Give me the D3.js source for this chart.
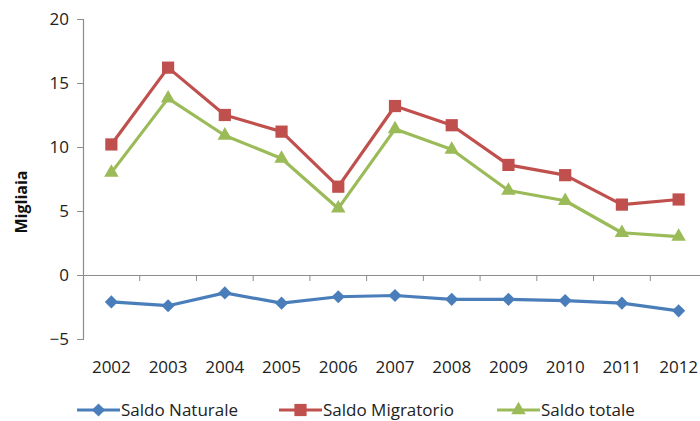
<!DOCTYPE html>
<html>
<head>
<meta charset="utf-8">
<script src="https://cdn.jsdelivr.net/npm/d3@7"></script>
<style>
  body { margin: 0; background: #fff; }
  text { font-family: "Open Sans", "Liberation Sans", sans-serif; }
</style>
</head>
<body>
<svg id="chart"></svg>
<script>
// data (migliaia)
var years = ['2002','2003','2004','2005','2006','2007','2008','2009','2010','2011','2012'];
var saldoNaturale = [-2.1, -2.4, -1.4, -2.2, -1.7, -1.6, -1.9, -1.9, -2.0, -2.2, -2.8];
var saldoMigratorio = [10.2, 16.2, 12.5, 11.2, 6.9, 13.2, 11.7, 8.6, 7.8, 5.5, 5.9];
var saldoTotale = [8.0, 13.8, 10.9, 9.1, 5.2, 11.4, 9.8, 6.6, 5.8, 3.3, 3.0];
var yTicks = [-5, 0, 5, 10, 15, 20];

var series = [
  {name: 'Saldo Naturale', values: saldoNaturale, color: '#4a7ebb', shape: 'diamond'},
  {name: 'Saldo Migratorio', values: saldoMigratorio, color: '#c0504d', shape: 'square'},
  {name: 'Saldo totale', values: saldoTotale, color: '#9bbb59', shape: 'triangle'}
];

var width = 700, height = 421;
var svg = d3.select('#chart').attr('width', width).attr('height', height);

var x = d3.scaleBand().domain(years).range([83, 707]);
var y = d3.scaleLinear().domain([-5, 20]).range([339, 19]);
var axisColor = '#8c8c8c';

// y axis
var yAxis = svg.append('g').attr('transform', 'translate(83,0)')
  .call(d3.axisLeft(y).tickValues(yTicks).tickSize(6).tickPadding(8));
yAxis.select('.domain').attr('stroke', axisColor).attr('stroke-width', 1.2);
yAxis.selectAll('.tick line').attr('stroke', axisColor);
yAxis.selectAll('.tick text').attr('fill', '#222').style('font-size', '17px');

// x axis at zero
var xAxis = svg.append('g').attr('transform', 'translate(0,' + y(0) + ')')
  .call(d3.axisBottom(x).tickSize(0).tickFormat(''));
xAxis.select('.domain').attr('stroke', axisColor).attr('stroke-width', 1.2);
xAxis.selectAll('.tick').remove();
svg.append('g').selectAll('line')
  .data(years.slice(1))
  .enter().append('line')
  .attr('x1', d => x(d)).attr('x2', d => x(d))
  .attr('y1', y(0)).attr('y2', y(0) + 6)
  .attr('stroke', axisColor);

// year labels below the plot
svg.append('g').selectAll('text')
  .data(years)
  .enter().append('text')
  .attr('x', d => x(d) + x.bandwidth() / 2)
  .attr('y', 373)
  .attr('text-anchor', 'middle')
  .attr('fill', '#222')
  .style('font-size', '17px')
  .text(d => d);

// y title
svg.append('text')
  .attr('transform', 'translate(27,202) rotate(-90)')
  .attr('text-anchor', 'middle')
  .style('font-size', '16px')
  .style('font-weight', 'bold')
  .attr('fill', '#111')
  .text('Migliaia');

function symbolFor(shape) {
  if (shape === 'diamond') return d3.symbol().type(d3.symbolDiamond2).size(110)();
  if (shape === 'square') return d3.symbol().type(d3.symbolSquare2).size(190)();
  return d3.symbol().type(d3.symbolTriangle2).size(150)();
}

var line = d3.line()
  .x((d, i) => x(years[i]) + x.bandwidth() / 2)
  .y(d => y(d));

series.forEach(function (s) {
  var g = svg.append('g');
  g.append('path')
    .attr('d', line(s.values))
    .attr('fill', 'none')
    .attr('stroke', s.color)
    .attr('stroke-width', 3.2)
    .attr('stroke-linejoin', 'round');
  g.selectAll('path.mark')
    .data(s.values)
    .enter().append('path')
    .attr('class', 'mark')
    .attr('d', symbolFor(s.shape))
    .attr('transform', (d, i) => 'translate(' + (x(years[i]) + x.bandwidth() / 2) + ',' + y(d) + ')')
    .attr('fill', s.color);
});

// legend
var legendX = [77, 279, 497];
series.forEach(function (s, i) {
  var lg = svg.append('g').attr('transform', 'translate(' + legendX[i] + ',410)');
  lg.append('line')
    .attr('x1', 0).attr('x2', 43)
    .attr('stroke', s.color).attr('stroke-width', 3.2);
  lg.append('path')
    .attr('d', symbolFor(s.shape))
    .attr('transform', 'translate(21.5,0)')
    .attr('fill', s.color);
  lg.append('text')
    .attr('x', 44).attr('y', 6)
    .style('font-size', '17px')
    .attr('fill', '#222')
    .text(s.name);
});
</script>
</body>
</html>
